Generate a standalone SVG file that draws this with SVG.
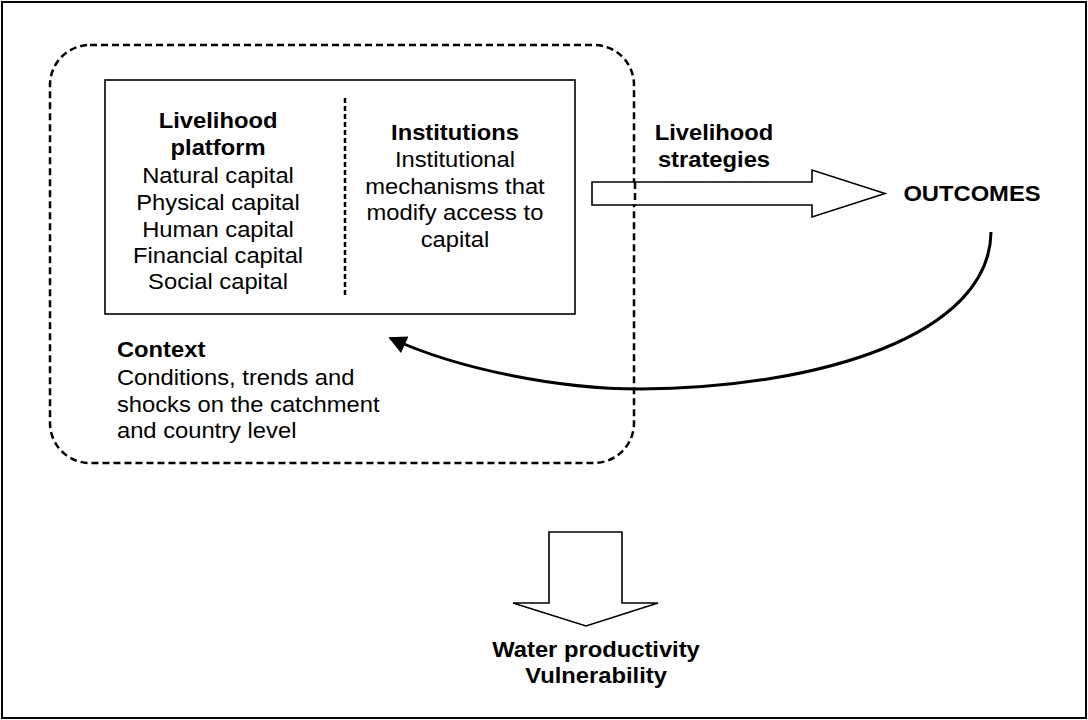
<svg xmlns="http://www.w3.org/2000/svg" width="1088" height="720" viewBox="0 0 1088 720">
<defs>
<style>
text{font-family:"Liberation Sans",Arial,sans-serif;font-size:22px;fill:#000}
.b{font-weight:bold}
.m{text-anchor:middle}
.ol{fill:#fff;stroke:#000;stroke-width:1.6}
</style>
<marker id="ah" viewBox="0 0 10 10" refX="9" refY="5" markerWidth="7" markerHeight="6" orient="auto" markerUnits="strokeWidth">
<path d="M0,0 L10,5 L0,10 z" fill="#000"/>
</marker>
</defs>
<rect width="1088" height="720" fill="#fff"/>
<rect id="frame" x="2" y="2" width="1084" height="716" fill="none" stroke="#000" stroke-width="2"/>
<g id="context">
<rect x="50" y="45" width="584" height="418" rx="40" fill="none" stroke="#000" stroke-width="2.5" stroke-dasharray="7 4"/>
<g transform="scale(1.08 1)">
<text class="b" x="108.3" y="357">Context</text>
<text x="108.3" y="385">Conditions, trends and</text>
<text x="108.3" y="412">shocks on the catchment</text>
<text x="108.3" y="438">and country level</text>
</g>
</g>
<g id="platform">
<rect x="105" y="80" width="470" height="234" fill="#fff" stroke="#000" stroke-width="1.6"/>
<line x1="345" y1="98" x2="345" y2="298" stroke="#000" stroke-width="2.5" stroke-dasharray="5 3"/>
<g transform="scale(1.08 1)">
<text class="b m" x="201.9" y="128">Livelihood</text>
<text class="b m" x="201.9" y="155">platform</text>
<text class="m" x="201.9" y="183">Natural capital</text>
<text class="m" x="201.9" y="210">Physical capital</text>
<text class="m" x="201.9" y="237">Human capital</text>
<text class="m" x="201.9" y="263">Financial capital</text>
<text class="m" x="201.9" y="289">Social capital</text>
</g>
</g>
<g id="institutions">
<g transform="scale(1.08 1)">
<text class="b m" x="421.3" y="140">Institutions</text>
<text class="m" x="421.3" y="167">Institutional</text>
<text class="m" x="421.3" y="194">mechanisms that</text>
<text class="m" x="421.3" y="220">modify access to</text>
<text class="m" x="421.3" y="247">capital</text>
</g>
</g>
<g id="outcomes">
<g transform="scale(1.08 1)">
<text class="b m" x="900" y="201">OUTCOMES</text>
</g>
</g>
<g id="water">
<g transform="scale(1.08 1)">
<text class="b m" x="551.9" y="657">Water productivity</text>
<text class="b m" x="551.9" y="683">Vulnerability</text>
</g>
</g>
<g id="connectors">
<path class="ol" d="M592,182 L812,182 L812,170 L885,193.5 L812,217 L812,205 L592,205 Z"/>
<line x1="635" y1="182" x2="635" y2="205" stroke="#000" stroke-width="2.5" stroke-dasharray="7 4"/>
<g transform="scale(1.08 1)">
<text class="b m" x="661.1" y="140">Livelihood</text>
<text class="b m" x="661.1" y="167">strategies</text>
</g>
<path d="M991,232 C990,335 820,388 640,389 C560,389 460,370 390,338" fill="none" stroke="#000" stroke-width="3" marker-end="url(#ah)"/>
<path class="ol" d="M549,532 L622,532 L622,603 L658,603 L586,626 L513,603 L549,603 Z"/>
</g>
</svg>
